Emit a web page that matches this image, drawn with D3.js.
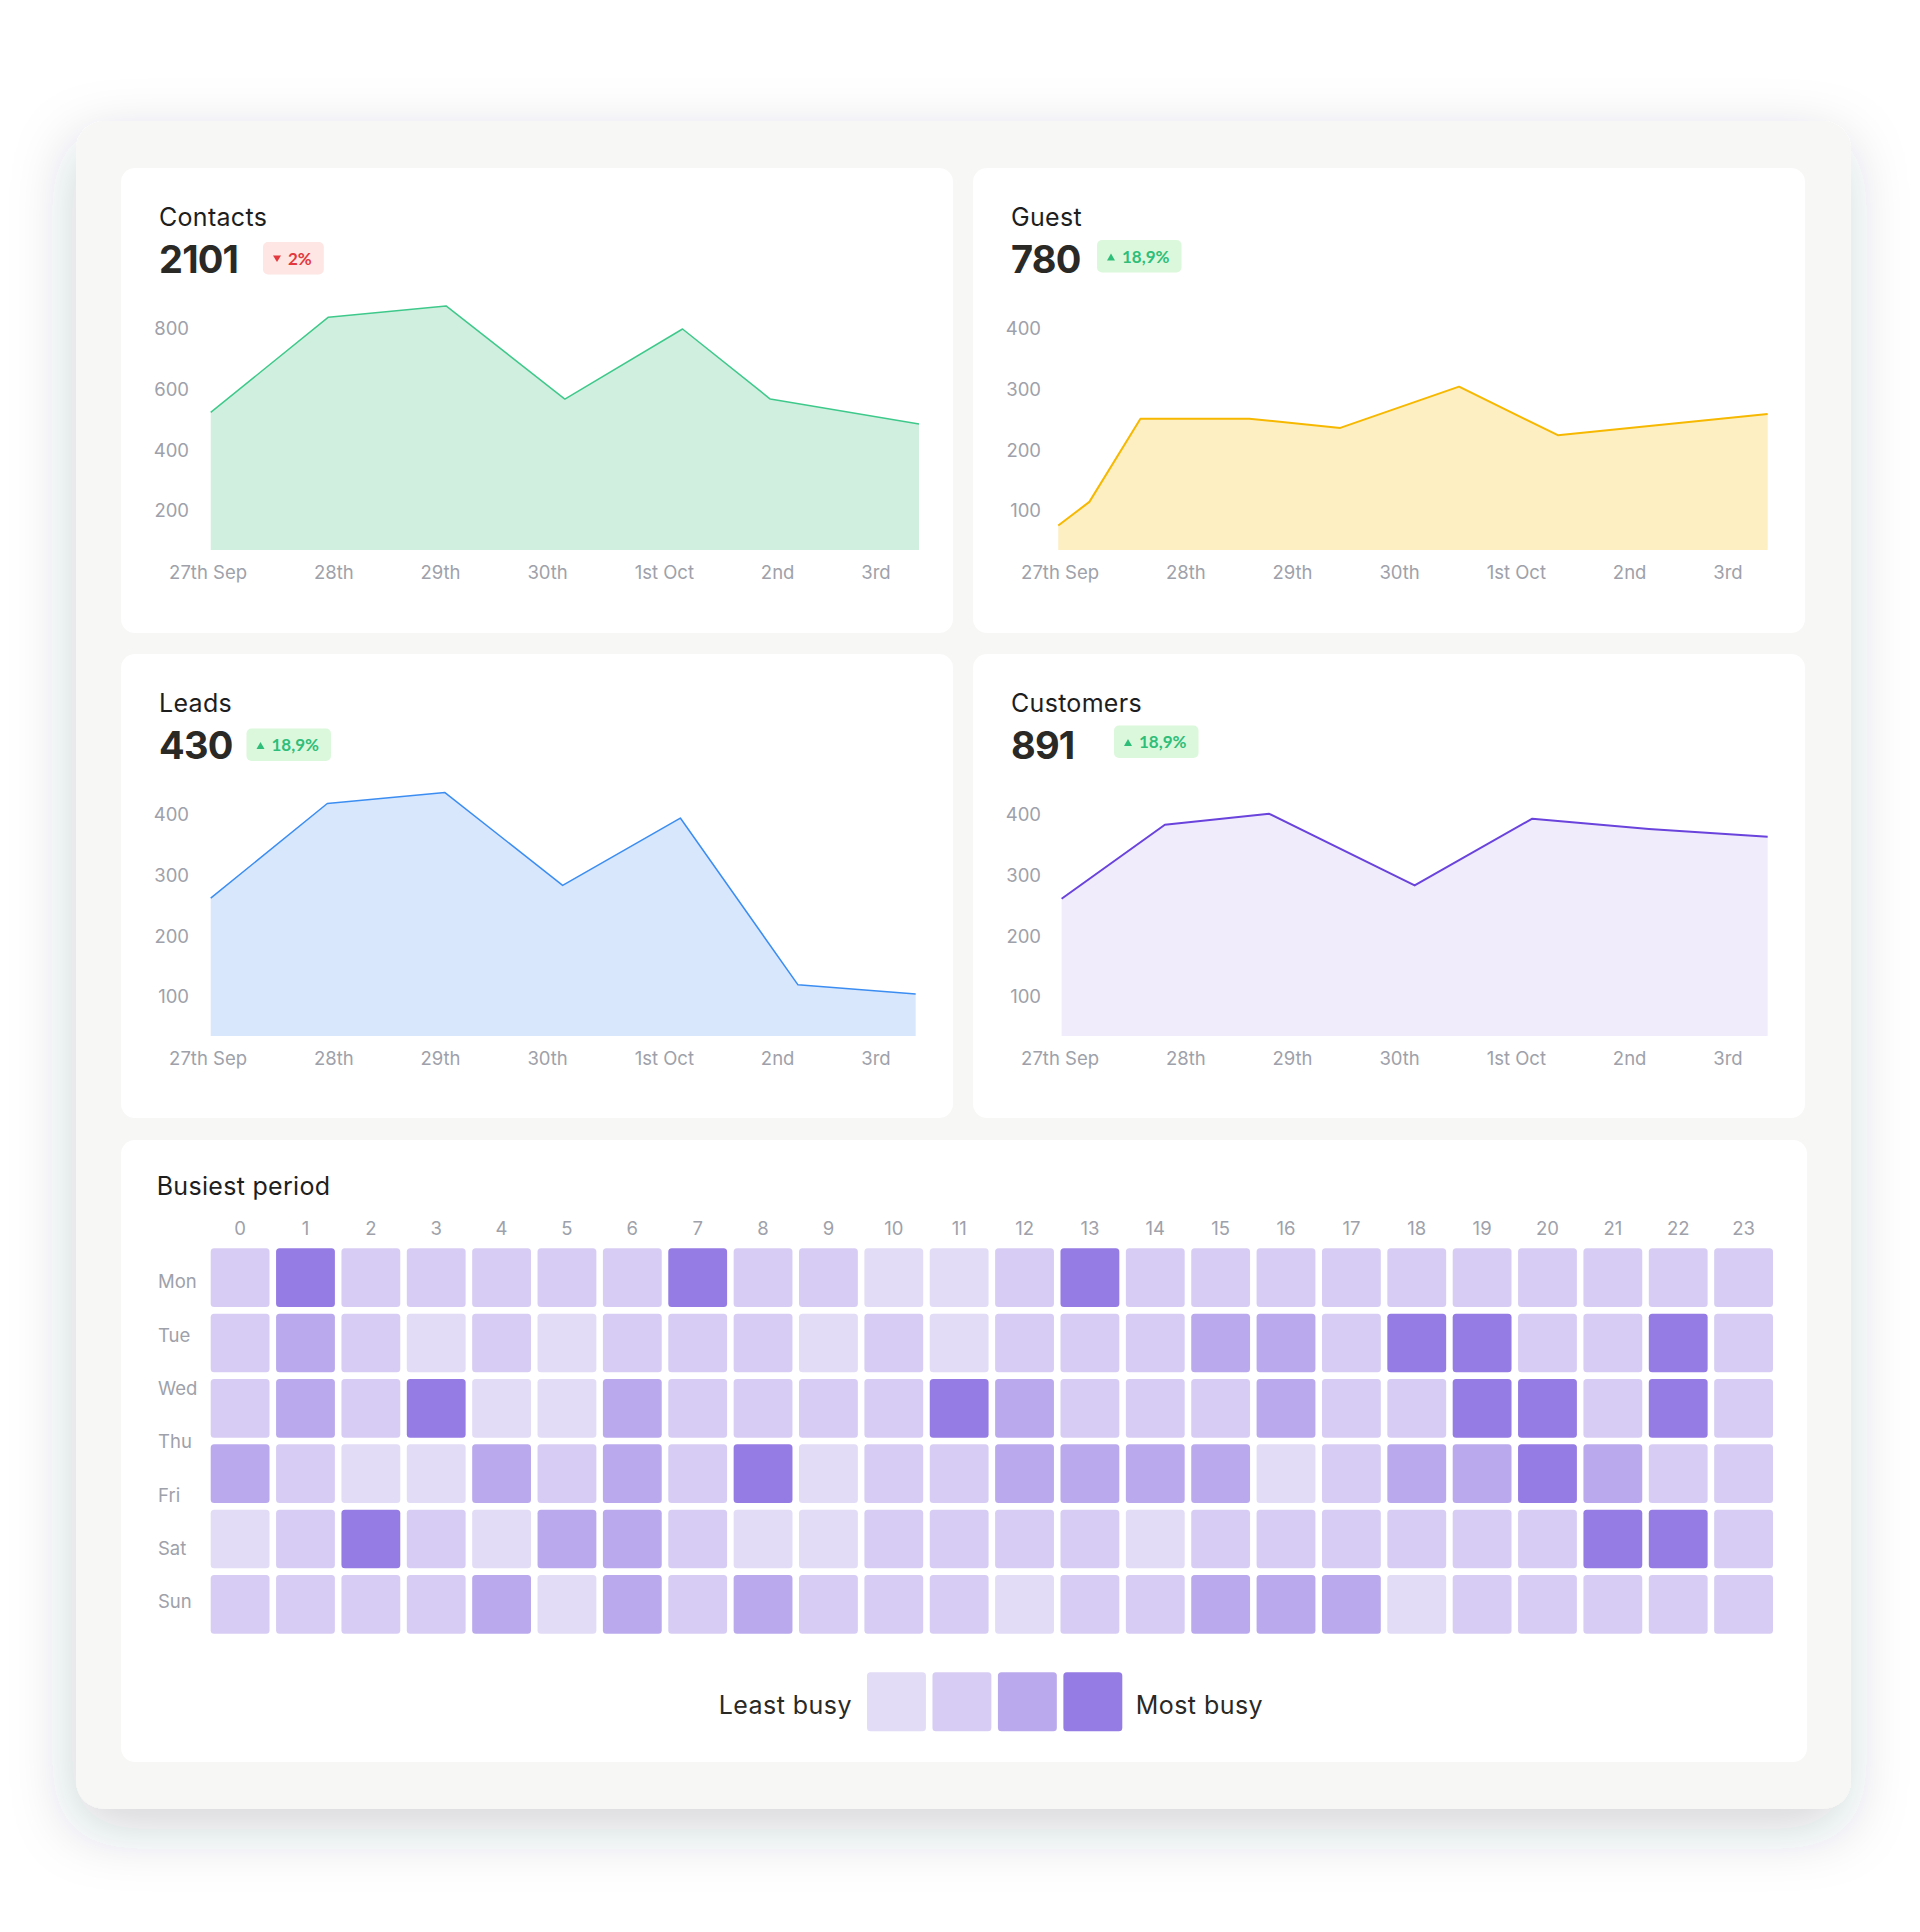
<!DOCTYPE html>
<html><head><meta charset="utf-8">
<script src="https://cdn.jsdelivr.net/npm/d3@7"></script>
<style>
html,body{margin:0;padding:0;background:#ffffff;}
svg{display:block;font-family:Inter,"Noto Sans",sans-serif;}
</style></head><body>
<svg id="chart" width="1920" height="1932"></svg>
<script>
// ---------- data ----------
const dayLabels = ["27th Sep","28th","29th","30th","1st Oct","2nd","3rd"];

const cardTitles = ["Contacts","Guest","Leads","Customers"];
const cardTotals = ["2101","780","430","891"];
const cardChanges = ["2%","18,9%","18,9%","18,9%"];
const cardTrends = ["down","up","up","up"];

const contactsDays   = [0.02,1.08,2.14,3.21,4.27,5.06,6.40];
const contactsValues = [525,839,876,569,800,569,487];
const contactsTicks  = [200,400,600,800];

const guestDays   = [-0.02,0.26,0.72,1.70,2.52,3.59,4.48,6.37];
const guestValues = [76,115,252,252,237,305,225,260];
const guestTicks  = [100,200,300,400];

const leadsDays   = [0.02,1.07,2.13,3.19,4.25,5.31,6.37];
const leadsValues = [263,419,437,284,395,120,105];
const leadsTicks  = [100,200,300,400];

const customersDays   = [0.01,0.94,1.88,3.19,4.25,5.30,6.37];
const customersValues = [262,384,402,284,394,377,364];
const customersTicks  = [100,200,300,400];

const heatTitle = "Busiest period";
const hourLabels = ["0","1","2","3","4","5","6","7","8","9","10","11","12","13","14","15","16","17","18","19","20","21","22","23"];
const weekdayLabels = ["Mon","Tue","Wed","Thu","Fri","Sat","Sun"];
const busyLevels = [
  [1,3,1,1,1,1,1,3, 1,1,0,0,1,3,1,1, 1,1,1,1,1,1,1,1],
  [1,2,1,0,1,0,1,1, 1,0,1,0,1,1,1,2, 2,1,3,3,1,1,3,1],
  [1,2,1,3,0,0,2,1, 1,1,1,3,2,1,1,1, 2,1,1,3,3,1,3,1],
  [2,1,0,0,2,1,2,1, 3,0,1,1,2,2,2,2, 0,1,2,2,3,2,1,1],
  [0,1,3,1,0,2,2,1, 0,0,1,1,1,1,0,1, 1,1,1,1,1,3,3,1],
  [1,1,1,1,2,0,2,1, 2,1,1,1,0,1,1,2, 2,2,0,1,1,1,1,1]
];
const legendLevels = [0,1,2,3];
const legendLabels = ["Least busy","Most busy"];

// ---------- styles / layout ----------
const levelColors = ["#e2dcf6","#d7cdf4","#baaaed","#957be4"];
const seriesStyle = [
  {fill:"#d1efdf", stroke:"#3ec98b", width:1.5},
  {fill:"#fdefc2", stroke:"#f6b801", width:2},
  {fill:"#d8e7fc", stroke:"#3b8df2", width:1.5},
  {fill:"#f0ecfb", stroke:"#6943dc", width:2}
];
const cardBoxes = [
  {x:121,y:168,w:832,h:465, badgeX:142, badgeY:74},
  {x:973,y:168,w:832,h:465, badgeX:124, badgeY:72},
  {x:121,y:654,w:832,h:464, badgeX:125.5, badgeY:74.5},
  {x:973,y:654,w:832,h:464, badgeX:141, badgeY:71.5}
];
const axisColor = "#9ea1aa";

const svg = d3.select("#chart");
const defs = svg.append("defs");
const sh = defs.append("filter").attr("id","shadow")
  .attr("x","-12%").attr("y","-12%").attr("width","124%").attr("height","130%");
sh.append("feDropShadow").attr("dx",-4).attr("dy",20).attr("stdDeviation",30)
  .attr("flood-color","#283046").attr("flood-opacity",0.2);

// outer panel
svg.append("rect").attr("x",76).attr("y",121).attr("width",1775).attr("height",1688)
  .attr("rx",28).attr("fill","#f7f7f5").attr("filter","url(#shadow)");

const seriesDays = [contactsDays, guestDays, leadsDays, customersDays];
const seriesValues = [contactsValues, guestValues, leadsValues, customersValues];
const seriesTicks = [contactsTicks, guestTicks, leadsTicks, customersTicks];

// measure helper
function textWidth(str, size, weight, family){
  const t = svg.append("text").attr("font-size",size).attr("font-weight",weight||400)
    .style("font-family", family||null).text(str);
  const w = t.node().getComputedTextLength();
  t.remove();
  return w;
}

cardBoxes.forEach((b, i) => {
  const g = svg.append("g").attr("transform",`translate(${b.x},${b.y})`);
  g.append("rect").attr("width",b.w).attr("height",b.h).attr("rx",14).attr("fill","#ffffff");

  g.append("text").attr("x",38).attr("y",57.7).attr("font-size",25).attr("letter-spacing",0.3)
    .attr("fill","#1e1e1e").text(cardTitles[i]);
  g.append("text").attr("x",38).attr("y",104.7).attr("font-size",38).attr("font-weight",700)
    .attr("letter-spacing",-0.8).attr("fill","#2a2925").text(cardTotals[i]);

  // badge
  const up = cardTrends[i] === "up";
  const tw = textWidth(cardChanges[i], 17, 700, "Lato");
  const bw = 10 + 8 + 7 + tw + 12;
  const bg = g.append("g").attr("transform",`translate(${b.badgeX},${b.badgeY})`);
  bg.append("rect").attr("width",bw).attr("height",32.5).attr("rx",5)
    .attr("fill", up ? "#dcf8dc" : "#fde6e3");
  const tri = up ? "M10,20.5 L18,20.5 L14,13.5 Z" : "M10,13.5 L18,13.5 L14,20 Z";
  bg.append("path").attr("d",tri).attr("fill", up ? "#2fbe79" : "#e3383d");
  bg.append("text").attr("x",25).attr("y",22.6).attr("font-size",17).attr("font-weight",700)
    .style("font-family","Lato").attr("fill", up ? "#2fbe79" : "#e3383d").text(cardChanges[i]);

  // scales
  const ticks = seriesTicks[i];
  const step = ticks[1] - ticks[0];
  const y = d3.scaleLinear().domain([step*0.357, ticks[ticks.length-1]]).range([382, 161]);
  const x = d3.scaleLinear().domain([0, 6]).range([87.5, 753.6]);

  const pts = seriesDays[i].map((d, k) => ({d, v: seriesValues[i][k]}));
  const area = d3.area().x(p => x(p.d)).y0(y(y.domain()[0])).y1(p => y(p.v));
  const line = d3.line().x(p => x(p.d)).y(p => y(p.v));
  g.append("path").datum(pts).attr("d",area).attr("fill",seriesStyle[i].fill);
  g.append("path").datum(pts).attr("d",line).attr("fill","none")
    .attr("stroke",seriesStyle[i].stroke).attr("stroke-width",seriesStyle[i].width)
    .attr("stroke-linejoin","round");

  // y axis
  const ya = g.append("g").attr("transform","translate(68,0)")
    .call(d3.axisLeft(y).tickValues(ticks).tickSize(0).tickPadding(0));
  ya.select(".domain").remove();
  ya.selectAll("text").attr("font-size",18.5).attr("fill",axisColor).style("font-family","Inter");

  // x axis: labels spread with equal gaps between left and right edges
  const widths = dayLabels.map(s => textWidth(s, 18.5, 400, "Inter"));
  const left = 47.6, right = 769.2;
  const gap = (right - left - d3.sum(widths)) / (dayLabels.length - 1);
  let cur = left;
  const centers = widths.map(w => { const c = cur + w/2; cur += w + gap; return c; });
  const xl = d3.scaleOrdinal(dayLabels, centers);
  const xa = g.append("g").attr("transform","translate(0,411.3)")
    .call(d3.axisBottom(xl).tickSize(0).tickPadding(0));
  xa.select(".domain").remove();
  xa.selectAll("text").attr("dy",null).attr("y",0).attr("font-size",18.5)
    .attr("fill",axisColor).style("font-family","Inter");
});

// ---------- heatmap ----------
const hc = {x:121, y:1140, w:1686, h:622};
svg.append("rect").attr("x",hc.x).attr("y",hc.y).attr("width",hc.w).attr("height",hc.h)
  .attr("rx",14).attr("fill","#ffffff");
svg.append("text").attr("x",156.7).attr("y",1195).attr("font-size",25).attr("letter-spacing",0.3)
  .attr("fill","#1e1e1e").text(heatTitle);

const hx = d3.scaleBand().domain(hourLabels).range([210.7, 1773.0]).paddingInner(0.1);
const rows = d3.range(busyLevels.length);
const hy = d3.scaleBand().domain(rows).range([1248.3, 1633.7]).paddingInner(0.1015);
const color = d3.scaleOrdinal(legendLevels, levelColors);

const cells = [];
busyLevels.forEach((row, r) => row.forEach((lv, c) => cells.push({r, h: hourLabels[c], lv})));
svg.append("g").selectAll("rect").data(cells).join("rect")
  .attr("x", d => hx(d.h)).attr("y", d => hy(d.r))
  .attr("width", hx.bandwidth()).attr("height", hy.bandwidth())
  .attr("rx",3.5).attr("fill", d => color(d.lv));

const ha = svg.append("g").attr("transform","translate(0,1235)")
  .call(d3.axisTop(hx).tickSize(0).tickPadding(0));
ha.select(".domain").remove();
ha.selectAll("text").attr("dy",null).attr("y",0).attr("font-size",18.5)
  .attr("fill",axisColor).style("font-family","Inter");

const dy = d3.scalePoint().domain(weekdayLabels).range([1281.7, 1601.7]);
svg.append("g").selectAll("text").data(weekdayLabels).join("text")
  .attr("x",158).attr("y", d => dy(d)).attr("dy","0.35em")
  .attr("font-size",18.5).attr("fill",axisColor).text(d => d);

// legend
const lx = d3.scaleBand().domain(legendLevels).range([867, 1122.3]).paddingInner(0.1);
svg.append("g").selectAll("rect").data(legendLevels).join("rect")
  .attr("x", d => lx(d)).attr("y",1672.3).attr("width",lx.bandwidth()).attr("height",59)
  .attr("rx",3.5).attr("fill", d => color(d));
svg.append("text").attr("x",852).attr("y",1714).attr("text-anchor","end")
  .attr("font-size",25).attr("letter-spacing",0.45).attr("fill","#2a2925").text(legendLabels[0]);
svg.append("text").attr("x",1135.7).attr("y",1714)
  .attr("font-size",25).attr("letter-spacing",0.45).attr("fill","#2a2925").text(legendLabels[1]);
</script>
</body></html>
